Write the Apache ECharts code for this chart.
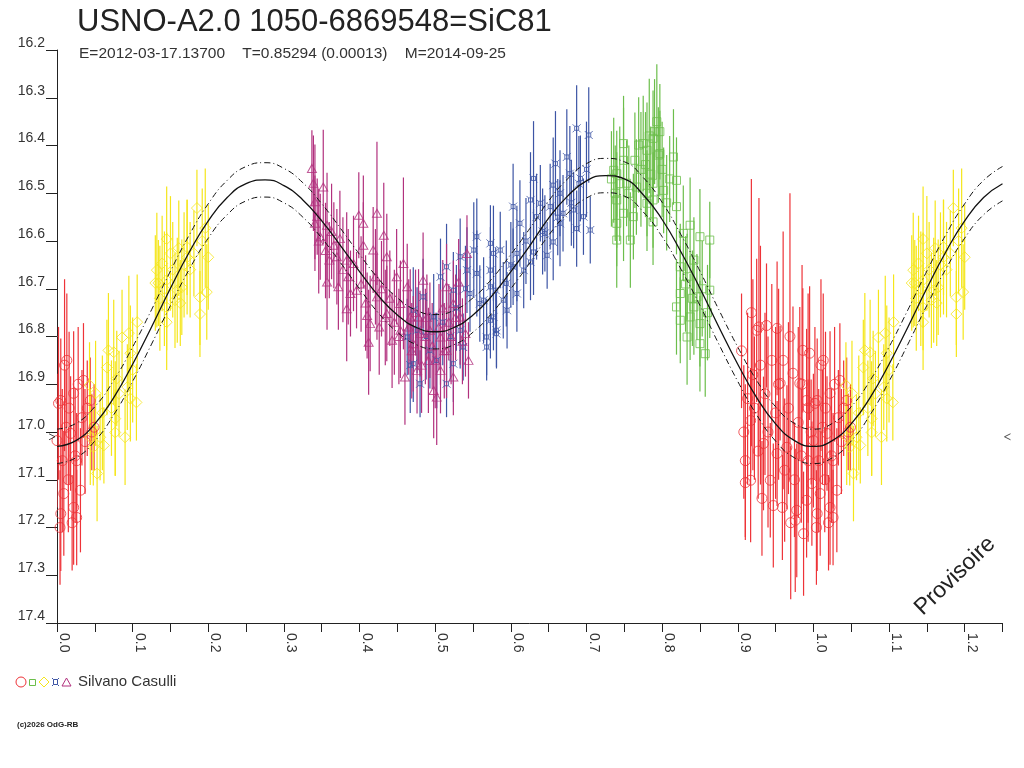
<!DOCTYPE html>
<html>
<head>
<meta charset="utf-8">
<title>USNO-A2.0 1050-6869548=SiC81</title>
<script src="https://cdn.jsdelivr.net/npm/echarts@6/dist/echarts.min.js"></script>
<style>
    html, body { margin: 0; padding: 0; background: #fff; }
    #mains { width: 1024px; height: 768px; }
</style>
</head>
<body>
<div id="mains"></div>
<script>
    // [phase, mag, err]
    var redPts = [
        [0.905,16.83,0.12],[0.908,17.0,0.14],[0.91,17.06,0.16],[0.91,17.106,0.12],[0.913,16.93,0.18],[0.917,16.976,0.11],
        [0.917,17.101,0.13],[0.918,16.75,0.28],[0.92,16.88,0.2],[0.922,16.95,0.15],[0.925,16.787,0.15],[0.927,17.04,0.1],
        [0.928,16.78,0.27],[0.93,16.86,0.25],[0.932,17.139,0.12],[0.934,17.024,0.14],[0.936,16.92,0.17],[0.938,16.777,0.13],
        [0.94,17.0,0.2],[0.943,17.101,0.12],[0.945,16.85,0.16],[0.947,17.154,0.13],[0.95,16.96,0.18],[0.952,16.783,0.14],
        [0.952,17.045,0.11],[0.954,16.9,0.2],[0.956,16.898,0.12],[0.959,17.158,0.11],[0.96,16.85,0.27],[0.962,17.08,0.15],
        [0.965,17.032,0.13],[0.967,16.95,0.18],[0.969,16.8,0.3],[0.97,17.19,0.16],[0.973,16.877,0.14],[0.975,17.1,0.12],
        [0.976,17.185,0.15],[0.978,17.164,0.14],[0.98,16.98,0.2],[0.982,16.898,0.16],[0.984,17.05,0.14],[0.985,16.9,0.25],
        [0.986,16.829,0.13],[0.987,17.213,0.13],[0.991,16.934,0.15],[0.991,17.143,0.12],[0.993,17.06,0.17],[0.993,16.95,0.24],
        [0.995,16.835,0.14],[0.997,17.0,0.11],[0.998,17.108,0.13],
        [0.0,17.018,0.14],[0.002,16.94,0.16],[0.004,17.2,0.12],[0.005,16.934,0.13],[0.005,17.171,0.12],[0.007,17.06,0.15],
        [0.009,17.129,0.13],[0.01,16.86,0.18],[0.012,16.99,0.12],[0.013,16.85,0.14],[0.015,17.1,0.11],[0.016,16.95,0.16],
        [0.018,17.003,0.12],[0.02,17.19,0.1],[0.022,16.919,0.13],[0.022,17.158,0.12],[0.024,17.05,0.14],[0.026,17.06,0.1],
        [0.026,17.179,0.1],[0.028,16.9,0.12],[0.031,17.122,0.13],[0.033,16.97,0.1],[0.035,16.892,0.12],[0.037,17.02,0.11],
        [0.04,16.95,0.1],[0.044,16.934,0.09],[0.046,17.0,0.08],[0.049,16.99,0.09]
    ];
    var yellowPts = [
        [0.043,16.902,0.09],[0.044,17.011,0.1],[0.048,17.032,0.08],[0.051,16.919,0.11],[0.053,17.087,0.1],[0.057,17.011,0.09],
        [0.06,16.96,0.12],[0.062,17.028,0.08],[0.066,16.865,0.1],[0.068,16.829,0.12],[0.072,16.95,0.1],[0.075,16.833,0.11],
        [0.077,17.001,0.09],[0.077,16.972,0.12],[0.079,16.888,0.1],[0.082,16.92,0.09],[0.086,16.802,0.1],[0.09,17.011,0.1],
        [0.093,16.906,0.09],[0.095,16.793,0.12],[0.097,16.835,0.1],[0.097,16.93,0.09],[0.1,16.87,0.11],[0.105,16.938,0.08],
        [0.106,16.77,0.1],
        [0.13,16.688,0.1],[0.132,16.661,0.12],[0.134,16.688,0.09],[0.136,16.72,0.11],[0.139,16.647,0.1],[0.142,16.7,0.12],
        [0.145,16.596,0.11],[0.145,16.682,0.1],[0.145,16.739,0.09],[0.145,16.77,0.1],[0.15,16.626,0.12],[0.153,16.66,0.1],
        [0.156,16.724,0.1],[0.159,16.703,0.11],[0.161,16.615,0.1],[0.163,16.73,0.09],[0.165,16.697,0.1],[0.168,16.65,0.11],
        [0.172,16.613,0.1],[0.172,16.634,0.12],[0.176,16.66,0.1],[0.181,16.626,0.09],[0.185,16.531,0.08],[0.189,16.718,0.1],
        [0.189,16.753,0.09],[0.192,16.6,0.11],[0.196,16.573,0.125],[0.198,16.707,0.1],[0.2,16.634,0.11]
    ];
    var purplePts = [
        [0.337,16.448,0.08],[0.339,16.479,0.1],[0.341,16.518,0.12],[0.341,16.563,0.1],[0.344,16.549,0.08],[0.346,16.6,0.11],
        [0.348,16.591,0.09],[0.352,16.487,0.12],[0.355,16.62,0.1],[0.357,16.567,0.11],[0.357,16.686,0.1],[0.36,16.64,0.08],
        [0.363,16.58,0.1],[0.366,16.609,0.09],[0.37,16.633,0.1],[0.372,16.696,0.09],[0.374,16.595,0.1],[0.378,16.66,0.11],
        [0.383,16.64,0.1],[0.383,16.742,0.11],[0.385,16.675,0.1],[0.388,16.71,0.09],[0.392,16.647,0.1],[0.396,16.703,0.08],
        [0.399,16.546,0.09],[0.402,16.69,0.1],[0.405,16.563,0.1],[0.405,16.609,0.09],[0.408,16.73,0.1],[0.41,16.756,0.09],
        [0.412,16.812,0.11],[0.414,16.773,0.1],[0.418,16.619,0.09],[0.421,16.675,0.1],[0.423,16.542,0.15],[0.423,16.717,0.09],
        [0.426,16.78,0.1],[0.429,16.7,0.1],[0.432,16.588,0.11],[0.434,16.76,0.1],[0.436,16.633,0.09],[0.436,16.752,0.1],
        [0.44,16.72,0.1],[0.443,16.808,0.1],[0.446,16.77,0.11],[0.449,16.675,0.1],[0.452,16.8,0.1],[0.454,16.731,0.09],
        [0.454,16.787,0.1],[0.458,16.647,0.18],[0.46,16.885,0.1],[0.463,16.696,0.09],[0.465,16.78,0.1],[0.467,16.759,0.1],
        [0.469,16.83,0.1],[0.471,16.815,0.1],[0.474,16.75,0.09],[0.476,16.871,0.09],[0.478,16.759,0.1],[0.48,16.794,0.09],
        [0.482,16.86,0.1],[0.484,16.682,0.1],[0.487,16.8,0.1],[0.489,16.76,0.09],[0.491,16.85,0.11],[0.493,16.787,0.1],
        [0.496,16.82,0.09],[0.498,16.913,0.1],[0.5,16.85,0.1],[0.502,16.927,0.1],[0.505,16.78,0.09],[0.507,16.801,0.1],
        [0.507,16.871,0.09],[0.51,16.74,0.1],[0.512,16.83,0.1],[0.515,16.696,0.09],[0.515,16.829,0.1],[0.518,16.77,0.08],
        [0.521,16.8,0.1],[0.524,16.731,0.09],[0.524,16.885,0.08],[0.527,16.76,0.09],[0.531,16.686,0.09],[0.533,16.759,0.1],
        [0.536,16.81,0.09],[0.54,16.794,0.09],[0.542,16.626,0.08],[0.544,16.85,0.08]
    ];
    var bluePts = [
        [0.463,16.801,0.08],[0.467,16.86,0.1],[0.471,16.745,0.09],[0.471,16.857,0.08],[0.476,16.787,0.09],[0.48,16.899,0.07],
        [0.484,16.717,0.08],[0.488,16.8,0.09],[0.493,16.829,0.08],[0.498,16.759,0.09],[0.502,16.85,0.1],[0.507,16.675,0.08],
        [0.51,16.77,0.09],[0.515,16.654,0.09],[0.515,16.899,0.07],[0.52,16.8,0.09],[0.524,16.703,0.08],[0.524,16.857,0.08],
        [0.528,16.74,0.09],[0.533,16.633,0.08],[0.533,16.787,0.08],[0.537,16.822,0.07],[0.54,16.7,0.09],[0.542,16.661,0.09],
        [0.546,16.71,0.08],[0.551,16.619,0.1],[0.555,16.591,0.08],[0.555,16.668,0.09],[0.559,16.731,0.08],[0.564,16.724,0.09],
        [0.568,16.801,0.08],[0.568,16.822,0.07],[0.573,16.605,0.08],[0.573,16.661,0.09],[0.573,16.696,0.08],[0.573,16.766,0.08],
        [0.577,16.626,0.1],[0.577,16.759,0.07],[0.58,16.703,0.09],[0.581,16.787,0.08],[0.581,16.794,0.07],[0.586,16.619,0.08],
        [0.59,16.724,0.08],[0.594,16.689,0.09],[0.595,16.745,0.08],[0.6,16.65,0.09],[0.603,16.528,0.09],[0.603,16.654,0.08],
        [0.608,16.626,0.1],[0.608,16.71,0.08],[0.612,16.563,0.09],[0.617,16.661,0.08],[0.62,16.6,0.09],[0.626,16.514,0.1],
        [0.626,16.644,0.08],[0.63,16.469,0.12],[0.63,16.623,0.09],[0.634,16.549,0.09],[0.639,16.521,0.08],[0.642,16.58,0.09],
        [0.645,16.584,0.08],[0.648,16.63,0.07],[0.652,16.528,0.09],[0.656,16.483,0.1],[0.656,16.602,0.08],[0.659,16.438,0.11],
        [0.662,16.55,0.08],[0.665,16.5,0.09],[0.665,16.563,0.09],[0.669,16.542,0.08],[0.674,16.424,0.1],[0.678,16.459,0.1],
        [0.68,16.52,0.09],[0.683,16.535,0.08],[0.687,16.364,0.09],[0.687,16.574,0.08],[0.69,16.48,0.1],[0.692,16.469,0.09],
        [0.696,16.549,0.08],[0.7,16.45,0.1],[0.703,16.378,0.1],[0.705,16.577,0.07]
    ];
    var greenPts = [
        [0.733,16.47,0.1],[0.736,16.452,0.11],[0.738,16.5,0.1],[0.74,16.459,0.09],[0.74,16.514,0.1],[0.74,16.563,0.09],
        [0.74,16.598,0.1],[0.744,16.48,0.12],[0.749,16.396,0.1],[0.749,16.431,0.11],[0.749,16.542,0.1],[0.753,16.479,0.09],
        [0.756,16.5,0.1],[0.758,16.598,0.1],[0.762,16.549,0.09],[0.764,16.431,0.1],[0.766,16.487,0.1],[0.769,16.399,0.1],
        [0.772,16.45,0.12],[0.775,16.396,0.1],[0.778,16.44,0.11],[0.78,16.41,0.1],[0.78,16.5,0.09],[0.78,16.521,0.1],
        [0.783,16.38,0.12],[0.785,16.46,0.1],[0.788,16.385,0.1],[0.788,16.479,0.09],[0.788,16.514,0.1],[0.788,16.56,0.09],
        [0.79,16.371,0.11],[0.793,16.35,0.12],[0.795,16.42,0.1],[0.797,16.371,0.1],[0.797,16.417,0.09],[0.8,16.45,0.1],
        [0.802,16.494,0.09],[0.806,16.52,0.1],[0.81,16.47,0.09],[0.815,16.424,0.1],[0.819,16.473,0.09],[0.819,16.528,0.1],
        [0.819,16.738,0.1],[0.824,16.654,0.09],[0.824,16.71,0.1],[0.824,16.766,0.09],[0.828,16.584,0.1],[0.831,16.69,0.1],
        [0.833,16.675,0.09],[0.833,16.801,0.1],[0.837,16.567,0.1],[0.837,16.759,0.09],[0.84,16.72,0.1],[0.842,16.64,0.09],
        [0.842,16.738,0.1],[0.846,16.717,0.09],[0.85,16.591,0.1],[0.85,16.773,0.09],[0.85,16.815,0.1],[0.853,16.7,0.1],
        [0.857,16.836,0.09],[0.86,16.75,0.1],[0.863,16.598,0.08],[0.863,16.703,0.1]
    ];

    // fitted light curve
    var fitPhase = [0, 0.025, 0.05, 0.075, 0.1, 0.125, 0.15, 0.175, 0.2, 0.225, 0.25, 0.275, 0.3, 0.325, 0.35, 0.375,
        0.4, 0.425, 0.45, 0.475, 0.5, 0.525, 0.55, 0.575, 0.6, 0.625, 0.65, 0.675, 0.7, 0.725, 0.75, 0.775, 0.8, 0.825,
        0.85, 0.875, 0.9, 0.925, 0.95, 0.975, 1.0, 1.025, 1.05, 1.075, 1.1, 1.125, 1.15, 1.175, 1.2, 1.225, 1.25];
    var fitMag = [17.030, 17.018, 16.983, 16.928, 16.858, 16.780, 16.699, 16.623, 16.558, 16.509, 16.480, 16.472,
        16.484, 16.514, 16.558, 16.610, 16.664, 16.715, 16.755, 16.781, 16.790, 16.781, 16.755, 16.715, 16.664, 16.610,
        16.552, 16.506, 16.474, 16.463, 16.470, 16.503, 16.555, 16.623, 16.699, 16.780, 16.858, 16.928, 16.983, 17.018,
        17.030, 17.018, 16.983, 16.928, 16.858, 16.780, 16.699, 16.623, 16.558, 16.509, 16.480];
    var fitBand = 0.036;
    var meanMag = 17.01;

    var title = 'USNO-A2.0 1050-6869548=SiC81';
    var subTitle = 'E=2012-03-17.13700    T=0.85294 (0.00013)    M=2014-09-25';
    var observer = 'Silvano Casulli';

    var colors = {red: '#ee3338', yellow: '#f5e61b', purple: '#b2317e', blue: '#3d55a5', green: '#6cbe4b'};
    var starPath = 'path://M3,3L9,3L9,9L3,9ZM0,0L3,3M12,0L9,3M0,12L3,9M12,12L9,9';

    // points before phase 0.25 are shown again one cycle later
    function withRepeat(pts) {
        var out = pts.slice();
        for (var i = 0; i < pts.length; i++) {
            if (pts[i][0] < 0.25) out.push([pts[i][0] + 1, pts[i][1], pts[i][2]]);
        }
        return out;
    }

    function errSeries(pts, color) {
        return {
            type: 'custom',
            data: pts,
            encode: {x: 0, y: 1},
            silent: true,
            clip: true,
            renderItem: function (params, api) {
                var p = api.value(0), m = api.value(1), e = api.value(2);
                var a = api.coord([p, m - e]);
                var b = api.coord([p, m + e]);
                return {
                    type: 'line',
                    shape: {x1: a[0], y1: a[1], x2: b[0], y2: b[1]},
                    style: {stroke: color, lineWidth: 1.2}
                };
            }
        };
    }

    function markSeries(pts, color, symbol, size) {
        return {
            type: 'scatter',
            data: pts.map(function (d) { return [d[0], d[1]]; }),
            symbol: symbol,
            symbolSize: size,
            silent: true,
            itemStyle: {color: 'rgba(0,0,0,0)', borderColor: color, borderWidth: 1}
        };
    }

    function curve(offset, dashed) {
        return {
            type: 'line',
            data: fitPhase.map(function (p, i) { return [p, fitMag[i] + offset]; }),
            showSymbol: false,
            symbol: 'none',
            smooth: true,
            silent: true,
            z: 5,
            lineStyle: {color: '#111', width: dashed ? 1 : 1.3, type: dashed ? [6, 3, 1, 3] : 'solid'}
        };
    }

    var red = withRepeat(redPts), yellow = withRepeat(yellowPts);
    var thin = {fill: 'none', lineWidth: 1};

    var myChart = echarts.init(document.getElementById('mains'));
    myChart.setOption({
        animation: false,
        backgroundColor: '#fff',
        textStyle: {fontFamily: 'Liberation Sans, Arial, sans-serif'},
        title: [
            {text: title, left: 72, top: 2, textStyle: {fontSize: 31, fontWeight: 'normal', color: '#222'}},
            {text: subTitle, left: 74, top: 41, textStyle: {fontSize: 15.5, fontWeight: 'normal', color: '#333'}}
        ],
        grid: {left: 57, right: 21.5, top: 50, bottom: 145},
        xAxis: {
            type: 'value', min: 0, max: 1.25, interval: 0.05,
            splitLine: {show: false},
            axisLine: {lineStyle: {color: '#222'}},
            axisTick: {length: 9, lineStyle: {color: '#222'}},
            axisLabel: {
                rotate: -90, margin: 10, fontSize: 14, color: '#333',
                align: 'left', verticalAlign: 'bottom',
                formatter: function (v) {
                    return Math.round(v * 100) % 10 === 0 ? v.toFixed(1) : '';
                }
            }
        },
        yAxis: {
            type: 'value', inverse: true, min: 16.2, max: 17.4, interval: 0.1,
            splitLine: {show: false},
            axisLine: {show: true, lineStyle: {color: '#222'}},
            axisTick: {show: true, length: 11, lineStyle: {color: '#222'}},
            axisLabel: {
                margin: 12, fontSize: 14, color: '#333', verticalAlign: 'bottom',
                formatter: function (v) { return v.toFixed(1); }
            }
        },
        series: [
            errSeries(red, colors.red), markSeries(red, colors.red, 'circle', 10),
            errSeries(yellow, colors.yellow), markSeries(yellow, colors.yellow, 'diamond', 11),
            errSeries(bluePts, colors.blue), markSeries(bluePts, colors.blue, starPath, 8),
            errSeries(greenPts, colors.green), markSeries(greenPts, colors.green, 'rect', 8),
            errSeries(purplePts, colors.purple), markSeries(purplePts, colors.purple, 'triangle', [9, 8]),
            curve(0, false), curve(-fitBand, true), curve(fitBand, true),
            {
                type: 'scatter',
                clip: false,
                silent: true,
                symbolSize: [6, 6],
                itemStyle: {color: 'rgba(0,0,0,0)', borderColor: '#222', borderWidth: 1},
                data: [
                    {value: [0, meanMag], symbol: 'path://M0,0L6,3L0,6', symbolOffset: [-5, 0]},
                    {value: [1.25, meanMag], symbol: 'path://M6,0L0,3L6,6', symbolOffset: [5, 0]}
                ]
            }
        ],
        graphic: [
            {type: 'circle', shape: {cx: 21, cy: 682, r: 5}, style: Object.assign({stroke: colors.red}, thin)},
            {type: 'rect', shape: {x: 29.5, y: 679.5, width: 6, height: 6}, style: Object.assign({stroke: colors.green}, thin)},
            {type: 'polygon', shape: {points: [[44, 677], [49, 682], [44, 687], [39, 682]]}, style: Object.assign({stroke: colors.yellow}, thin)},
            {type: 'rect', shape: {x: 53.5, y: 679.5, width: 4, height: 5}, style: Object.assign({stroke: colors.blue}, thin)},
            {type: 'line', shape: {x1: 52, y1: 678, x2: 53.5, y2: 679.5}, style: Object.assign({stroke: colors.blue}, thin)},
            {type: 'line', shape: {x1: 59, y1: 678, x2: 57.5, y2: 679.5}, style: Object.assign({stroke: colors.blue}, thin)},
            {type: 'line', shape: {x1: 52, y1: 686, x2: 53.5, y2: 684.5}, style: Object.assign({stroke: colors.blue}, thin)},
            {type: 'line', shape: {x1: 59, y1: 686, x2: 57.5, y2: 684.5}, style: Object.assign({stroke: colors.blue}, thin)},
            {type: 'polygon', shape: {points: [[66.5, 678], [71, 686], [62, 686]]}, style: Object.assign({stroke: colors.purple}, thin)},
            {type: 'text', left: 78, top: 674, style: {text: observer, fontSize: 15, fill: '#333', fontFamily: 'Liberation Sans'}},
            {type: 'text', left: 17, top: 721, style: {text: '(c)2026 OdG-RB', fontSize: 8, fontWeight: 'bold', fill: '#222', fontFamily: 'Liberation Sans'}},
            {type: 'text', x: 955, y: 576, rotation: 44 * Math.PI / 180,
                style: {text: 'Provisoire', fontSize: 23, fill: '#222', align: 'center', verticalAlign: 'middle', fontFamily: 'Liberation Sans'}}
        ]
    });
</script>
</body>
</html>
